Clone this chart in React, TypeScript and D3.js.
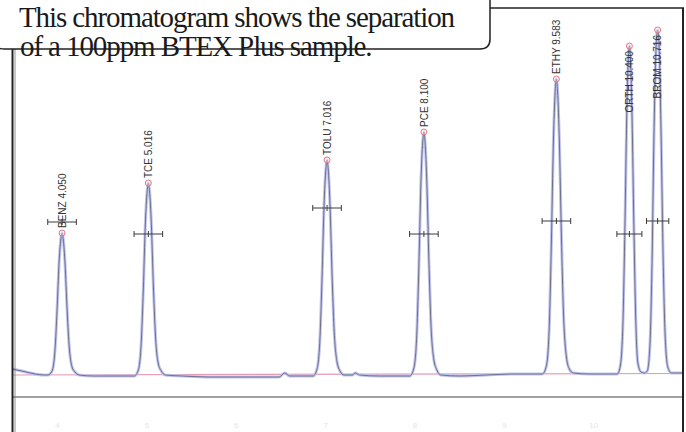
import React from "react";
import * as d3 from "d3";

// Peak table (name, retention time in min, apex signal, half-height marker level, marker half-width)
const peakNames = ["BENZ", "TCE", "TOLU", "PCE", "ETHY", "ORTH", "BROM"];
const peakTimes = [4.05, 5.016, 7.016, 8.1, 9.583, 10.4, 10.716];
const peakHeights = [142, 192, 215, 243, 296, 329, 345];
const markerLevels = [153, 141, 167, 141, 154, 141, 154];
const markerHalfWidths = [0.16, 0.16, 0.16, 0.16, 0.16, 0.14, 0.125];
const labelBelow = [false, false, false, false, false, true, true];

// Detector trace (time in min, signal)
const traceTime = [
  3.49, 3.6, 3.75, 3.85,
  3.893, 3.938, 3.972, 3.994, 4.016, 4.037, 4.05, 4.063, 4.084, 4.106, 4.128, 4.162, 4.195, 4.24,
  4.4, 4.6, 4.8,
  4.859, 4.904, 4.938, 4.96, 4.982, 5.003, 5.016, 5.029, 5.05, 5.072, 5.094, 5.128, 5.161, 5.206,
  5.4, 5.7, 6.0, 6.2, 6.48, 6.54, 6.6, 6.8,
  6.859, 6.904, 6.938, 6.96, 6.982, 7.003, 7.016, 7.029, 7.05, 7.072, 7.094, 7.128, 7.161, 7.206,
  7.3, 7.33, 7.38, 7.6, 7.9,
  7.943, 7.988, 8.022, 8.044, 8.066, 8.087, 8.1, 8.113, 8.134, 8.156, 8.178, 8.212, 8.245, 8.29,
  8.5, 8.8, 9.1, 9.3,
  9.426, 9.471, 9.505, 9.527, 9.549, 9.57, 9.583, 9.596, 9.617, 9.639, 9.661, 9.695, 9.728, 9.773,
  9.95, 10.15,
  10.265, 10.3, 10.33, 10.35, 10.37, 10.388, 10.4, 10.412, 10.43, 10.45, 10.47, 10.495, 10.53, 10.57,
  10.6, 10.63, 10.655, 10.675, 10.7, 10.716, 10.732, 10.755, 10.775, 10.8, 10.83, 10.87, 11.0,
];
const traceSignal = [
  6, 4, 1, 0,
  0, 4, 26, 64, 111, 136, 142, 136, 111, 67, 31, 8, 3, 0,
  -1, -1, -1,
  -1, 5, 35, 86, 150, 184, 192, 184, 150, 90, 42, 11, 4, 0,
  -1, -2, -2, -2, -2, 2, -1, -1,
  -1, 6, 39, 97, 168, 206, 215, 206, 168, 101, 47, 13, 4, 0,
  0, 2, 0, -1, -1,
  -1, 7, 44, 109, 190, 233, 243, 233, 190, 114, 53, 15, 5, 0,
  -1, 0, 1, 1,
  1, 9, 53, 133, 231, 284, 296, 284, 231, 139, 65, 18, 6, 2,
  1, 1,
  1, 10, 59, 148, 257, 316, 329, 316, 257, 150, 60, 12, 3, 2,
  4, 30, 120, 240, 330, 345, 330, 240, 130, 40, 8, 2, 2,
];

// Integration baseline
const baseTime = [3.49, 11.0];
const baseSignal = [0, 1.5];

// Faint time-axis labels in the lower panel
const axisTicks = [4, 5, 6, 7, 8, 9, 10];

const titleLines = [
  "This chromatogram shows the separation",
  "of a 100ppm BTEX Plus sample.",
];

export default function App() {
  const W = 686;
  const H = 432;
  const x = d3.scaleLinear().domain([3.49, 11.0]).range([12, 683]);
  const y = d3.scaleLinear().domain([0, 350]).range([375, 25]);

  const trace = traceTime.map((t, i) => [t, traceSignal[i]] as [number, number]);
  const line = d3
    .line<[number, number]>()
    .x((d) => x(d[0]))
    .y((d) => y(d[1]))
    .curve(d3.curveMonotoneX);
  const tracePath = line(trace) || "";
  const basePath = line(baseTime.map((t, i) => [t, baseSignal[i]] as [number, number])) || "";

  const boxLeft = -6;
  const boxRight = 490;
  const boxBottom = 49;
  const r = 10;
  const boxPath = `M ${boxLeft} -5 L ${boxLeft} ${boxBottom - r} Q ${boxLeft} ${boxBottom} ${boxLeft + r} ${boxBottom} L ${boxRight - r} ${boxBottom} Q ${boxRight} ${boxBottom} ${boxRight} ${boxBottom - r} L ${boxRight} -5`;
  const serif = "Liberation Serif, Times New Roman, serif";

  return (
    <svg
      width={W}
      height={H}
      viewBox={`0 0 ${W} ${H}`}
      style={{ position: "absolute", left: 0, top: 0, background: "#fff", display: "block" }}
    >
      <rect x={0} y={0} width={W} height={H} fill="#fff" />
      {/* lower panel separator */}
      <line x1={13} x2={682} y1={397} y2={397} stroke="#a0a0a0" strokeWidth={2} />
      {axisTicks.map((t) => (
        <text
          key={t}
          x={x(t)}
          y={428}
          fontSize={8}
          fontFamily="Liberation Sans, Arial, sans-serif"
          fill="#e4e4e4"
          textAnchor="middle"
        >
          {t}
        </text>
      ))}
      {/* integration baseline */}
      <path d={basePath} fill="none" stroke="#e79ab4" strokeWidth={1.2} />
      {/* trace */}
      <path d={tracePath} fill="none" stroke="#c2c5ea" strokeWidth={3} strokeLinejoin="round" />
      <path d={tracePath} fill="none" stroke="#6c7090" strokeWidth={1} strokeLinejoin="round" />
      {/* peak markers */}
      {peakNames.map((name, i) => {
        const px = x(peakTimes[i]);
        const py = y(peakHeights[i]);
        const my = y(markerLevels[i]);
        const x1 = x(peakTimes[i] - markerHalfWidths[i]);
        const x2 = x(peakTimes[i] + markerHalfWidths[i]);
        const label = `${name} ${peakTimes[i].toFixed(3)}`;
        const below = labelBelow[i];
        return (
          <g key={name}>
            <line x1={x1} x2={x2} y1={my} y2={my} stroke="#3a3a3a" strokeWidth={1} />
            <line x1={x1} x2={x1} y1={my - 3} y2={my + 3} stroke="#3a3a3a" strokeWidth={1} />
            <line x1={x2} x2={x2} y1={my - 3} y2={my + 3} stroke="#3a3a3a" strokeWidth={1} />
            <line x1={px} x2={px} y1={my - 3} y2={my + 3} stroke="#3a3a3a" strokeWidth={1} />
            <circle cx={px} cy={py} r={3} fill="#fbe3e6" fillOpacity={0.4} stroke="#e07a8a" strokeWidth={1} />
            <text
              transform={`translate(${px + 3.8},${below ? py + 5 : py - 5}) rotate(-90)`}
              fontSize={10}
              fontFamily="Liberation Sans, Arial, sans-serif"
              fill="#333"
              textAnchor={below ? "end" : "start"}
            >
              {label}
            </text>
          </g>
        );
      })}
      {/* frame */}
      <line x1={boxRight} x2={684} y1={8} y2={8} stroke="#222" strokeWidth={1.5} />
      <line x1={683} x2={683} y1={8} y2={H} stroke="#222" strokeWidth={2} />
      <line x1={12.5} x2={12.5} y1={boxBottom} y2={H} stroke="#222" strokeWidth={2} />
      <line x1={15} x2={15} y1={boxBottom} y2={H} stroke="#777" strokeWidth={0.8} />
      {/* callout */}
      <path d={boxPath} fill="none" stroke="#222" strokeWidth={1.5} />
      <text x={19} y={27} fontSize={29} fontFamily={serif} fill="#1a1a1a" letterSpacing={-1.1}>
        {titleLines[0]}
      </text>
      <text x={20} y={56} fontSize={29} fontFamily={serif} fill="#1a1a1a" letterSpacing={-1.1}>
        {titleLines[1]}
      </text>
    </svg>
  );
}
